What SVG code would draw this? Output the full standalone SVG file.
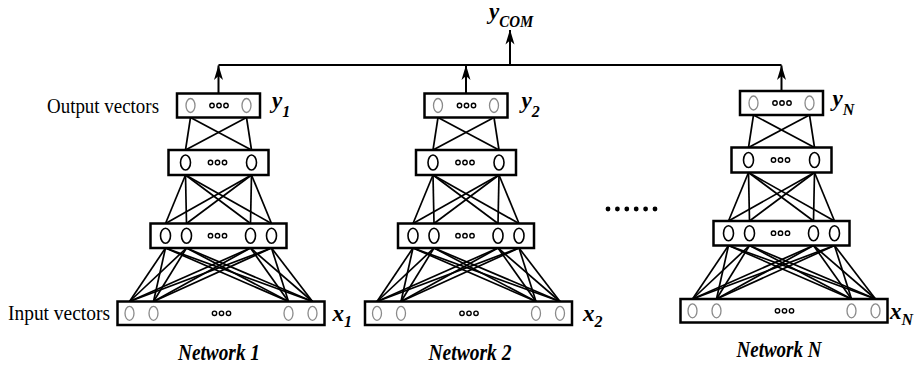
<svg xmlns="http://www.w3.org/2000/svg" width="918" height="366" viewBox="0 0 918 366">
<style>
.box{fill:#fff;stroke:#000;stroke-width:2.5}
.e{stroke:#000;stroke-width:1.7;fill:none}
.cg{fill:#fff;stroke:#8a8a8a;stroke-width:1.3}
.cb{fill:#fff;stroke:#000;stroke-width:1.6}
.d{fill:#fff;stroke:#000;stroke-width:1.4}
.wire{stroke:#000;stroke-width:2;fill:none}
.lab{font-family:"Liberation Serif","Times New Roman",serif;font-style:italic;font-weight:bold;font-size:23px;fill:#000}
.sub{font-size:16px}
.net{font-family:"Liberation Serif","Times New Roman",serif;font-style:italic;font-weight:bold;font-size:23px;fill:#000}
.vec{font-family:"Liberation Serif","Times New Roman",serif;font-size:20px;fill:#000}
</style>
<defs>
<marker id="ah" markerUnits="userSpaceOnUse" markerWidth="15" markerHeight="10" viewBox="0 0 15 10" refX="14.5" refY="5" orient="auto">
<path d="M0,0.5 L15,5 L0,9.5 L4,5 z" fill="#000"/>
</marker>
<g id="ooo">
<circle class="d" cx="-7" cy="0" r="2.2"/>
<circle class="d" cx="0" cy="0" r="2.2"/>
<circle class="d" cx="7" cy="0" r="2.2"/>
</g>
<g id="tower">
<g class="e">
<line x1="-28" y1="117.5" x2="-33" y2="150"/>
<line x1="-28" y1="117.5" x2="33" y2="150"/>
<line x1="28" y1="117.5" x2="-33" y2="150"/>
<line x1="28" y1="117.5" x2="33" y2="150"/>
<line x1="-33" y1="175" x2="-53" y2="223.5"/>
<line x1="-33" y1="175" x2="-32" y2="223.5"/>
<line x1="-33" y1="175" x2="32" y2="223.5"/>
<line x1="-33" y1="175" x2="53" y2="223.5"/>
<line x1="33" y1="175" x2="-53" y2="223.5"/>
<line x1="33" y1="175" x2="-32" y2="223.5"/>
<line x1="33" y1="175" x2="32" y2="223.5"/>
<line x1="33" y1="175" x2="53" y2="223.5"/>
<line x1="-53" y1="248" x2="-89" y2="301.5"/>
<line x1="-53" y1="248" x2="-65" y2="301.5"/>
<line x1="-53" y1="248" x2="70" y2="301.5"/>
<line x1="-53" y1="248" x2="94" y2="301.5"/>
<line x1="-32" y1="248" x2="-89" y2="301.5"/>
<line x1="-32" y1="248" x2="-65" y2="301.5"/>
<line x1="-32" y1="248" x2="70" y2="301.5"/>
<line x1="-32" y1="248" x2="94" y2="301.5"/>
<line x1="32" y1="248" x2="-89" y2="301.5"/>
<line x1="32" y1="248" x2="-65" y2="301.5"/>
<line x1="32" y1="248" x2="70" y2="301.5"/>
<line x1="32" y1="248" x2="94" y2="301.5"/>
<line x1="53" y1="248" x2="-89" y2="301.5"/>
<line x1="53" y1="248" x2="-65" y2="301.5"/>
<line x1="53" y1="248" x2="70" y2="301.5"/>
<line x1="53" y1="248" x2="94" y2="301.5"/>
</g>
<rect class="box" x="-41.5" y="93.5" width="83" height="24"/>
<ellipse class="cg" cx="-28" cy="105.5" rx="4.5" ry="7"/>
<ellipse class="cg" cx="28" cy="105.5" rx="4.5" ry="7"/>
<use href="#ooo" x="0.5" y="105.5"/>
<rect class="box" x="-50" y="150" width="100" height="25"/>
<ellipse class="cb" cx="-33" cy="162.5" rx="5" ry="7.5"/>
<ellipse class="cb" cx="33" cy="162.5" rx="5" ry="7.5"/>
<use href="#ooo" x="-1" y="162.5"/>
<rect class="box" x="-68" y="223.5" width="136" height="24.5"/>
<ellipse class="cb" cx="-53" cy="235.7" rx="5" ry="7.5"/>
<ellipse class="cb" cx="-32" cy="235.7" rx="5" ry="7.5"/>
<ellipse class="cb" cx="32" cy="235.7" rx="5" ry="7.5"/>
<ellipse class="cb" cx="53" cy="235.7" rx="5" ry="7.5"/>
<use href="#ooo" x="-1" y="235.7"/>
<rect class="box" x="-101" y="301.5" width="207" height="23.5"/>
<ellipse class="cg" cx="-89" cy="313.3" rx="4.5" ry="7"/>
<ellipse class="cg" cx="-65" cy="313.3" rx="4.5" ry="7"/>
<ellipse class="cg" cx="70" cy="313.3" rx="4.5" ry="7"/>
<ellipse class="cg" cx="94" cy="313.3" rx="4.5" ry="7"/>
<use href="#ooo" x="3" y="313.3"/>
</g>
</defs>

<g id="connectors">
<polyline class="wire" points="218.5,65 781.5,65"/>
<line class="wire" x1="218.5" y1="93.5" x2="218.5" y2="65.5" marker-end="url(#ah)"/>
<line class="wire" x1="466" y1="93.5" x2="466" y2="65.5" marker-end="url(#ah)"/>
<line class="wire" x1="781.5" y1="91.5" x2="781.5" y2="65.5" marker-end="url(#ah)"/>
<line class="wire" x1="510" y1="65" x2="510" y2="30" marker-end="url(#ah)"/>
</g>

<g id="network1">
<use href="#tower" transform="translate(218.5,0)"/>
<text class="lab" x="272" y="108">y<tspan class="sub" dy="9">1</tspan></text>
<text class="lab" x="332.5" y="321">x<tspan class="sub" dy="6">1</tspan></text>
<text class="net" x="219" y="360" text-anchor="middle" textLength="82" lengthAdjust="spacingAndGlyphs">Network 1</text>
</g>

<g id="network2">
<use href="#tower" transform="translate(466,0)"/>
<text class="lab" x="521.5" y="108">y<tspan class="sub" dy="9">2</tspan></text>
<text class="lab" x="583" y="321">x<tspan class="sub" dy="6">2</tspan></text>
<text class="net" x="470" y="360" text-anchor="middle" textLength="83" lengthAdjust="spacingAndGlyphs">Network 2</text>
</g>

<g id="networkN">
<use href="#tower" transform="translate(781.5,-2.5)"/>
<text class="lab" x="832.5" y="105.5">y<tspan class="sub" dy="9">N</tspan></text>
<text class="lab" x="890" y="318.5">x<tspan class="sub" dy="6">N</tspan></text>
<text class="net" x="779" y="357" text-anchor="middle" textLength="85" lengthAdjust="spacingAndGlyphs">Network N</text>
</g>

<g id="ellipsis">
<circle cx="608" cy="209" r="2.4"/>
<circle cx="617.4" cy="209" r="2.4"/>
<circle cx="626.8" cy="209" r="2.4"/>
<circle cx="636.2" cy="209" r="2.4"/>
<circle cx="645.6" cy="209" r="2.4"/>
<circle cx="655" cy="209" r="2.4"/>
</g>

<g id="ycom">
<text class="lab" x="489" y="19">y<tspan class="sub" dy="8" textLength="34" lengthAdjust="spacingAndGlyphs">COM</tspan></text>
</g>

<g id="labels">
<text class="vec" x="159" y="113" text-anchor="end" textLength="112" lengthAdjust="spacingAndGlyphs">Output vectors</text>
<text class="vec" x="8" y="320" textLength="102" lengthAdjust="spacingAndGlyphs">Input vectors</text>
</g>
</svg>
